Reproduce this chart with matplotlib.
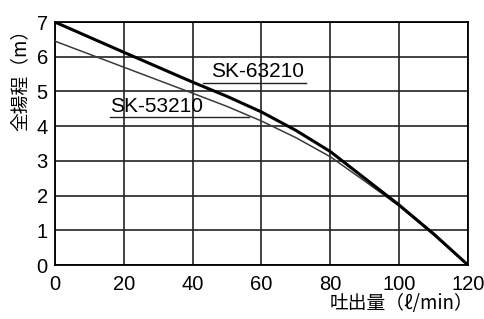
import matplotlib
matplotlib.use('Agg')
import matplotlib.pyplot as plt

# flow (l/min) vs total head (m)
flow_63 = [0, 20, 40, 50, 60, 70, 80, 90, 100, 110, 120]
head_63 = [7.0, 6.13, 5.27, 4.86, 4.41, 3.88, 3.27, 2.50, 1.73, 0.90, 0.0]
flow_53 = [0, 20, 40, 50, 60, 70, 80, 90, 100, 110, 120]
head_53 = [6.45, 5.70, 4.95, 4.57, 4.15, 3.67, 3.12, 2.42, 1.70, 0.87, 0.0]

xticks = [0, 20, 40, 60, 80, 100, 120]
yticks = [0, 1, 2, 3, 4, 5, 6, 7]

num_font = ['Liberation Sans', 'DejaVu Sans']
jp_font = ['Noto Sans CJK JP', 'DejaVu Sans']

fig = plt.figure(figsize=(4.85, 3.19), dpi=100)
ax = fig.add_axes([0.113, 0.169, 0.852, 0.762])

ax.plot(flow_53, head_53, color='#3a3a3a', linewidth=1.1, zorder=3)
ax.plot(flow_63, head_63, color='black', linewidth=2.2, zorder=4)

ax.set_xlim(0, 120)
ax.set_ylim(0, 7)
ax.set_xticks(xticks)
ax.set_yticks(yticks)
ax.grid(color='#222222', linewidth=1.2)
for s in ax.spines.values():
    s.set_linewidth(1.3)
ax.tick_params(length=0, labelsize=14.5)
ax.tick_params(axis='x', pad=7)
ax.tick_params(axis='y', pad=5)
for lab in ax.get_xticklabels() + ax.get_yticklabels():
    lab.set_family(num_font)

# series labels with underline leaders
ax.text(45.5, 5.57, 'SK-63210', fontsize=15, family=num_font, va='center')
ax.plot([43, 73], [5.25, 5.25], color='#222222', linewidth=1.0)
ax.text(16, 4.57, 'SK-53210', fontsize=15, family=num_font, va='center')
ax.plot([16, 56.5], [4.27, 4.27], color='#222222', linewidth=1.0)

fig.text(0.042, 0.765, '全揚程（m）', rotation=90, fontsize=13.5,
         family=jp_font, ha='center', va='center')
fig.text(0.828, 0.05, '吐出量（ℓ/min）', fontsize=13.5,
         family=jp_font, ha='center', va='center')

fig.savefig('out.png', dpi=100)
